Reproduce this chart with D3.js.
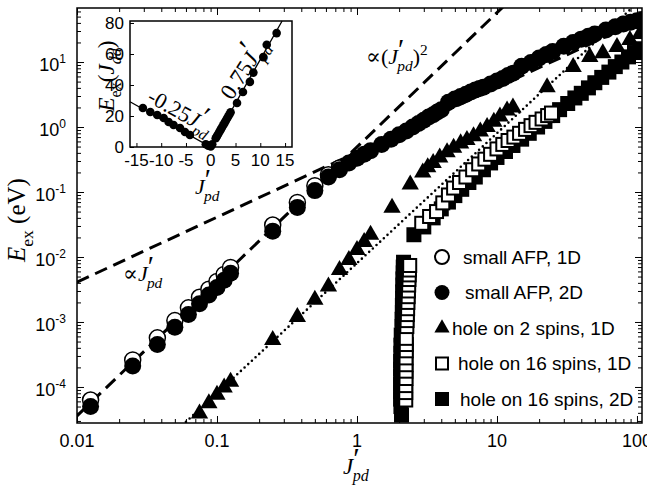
<!DOCTYPE html>
<html>
<head>
<meta charset="utf-8">
<script src="https://cdn.jsdelivr.net/npm/d3@7/dist/d3.min.js"></script>
<style>
  body { margin: 0; background: #fff; }
</style>
</head>
<body>
<div id="chart"></div>
<script>
// small AFP, 1D (open circles)
const afp1dJ = [0.0125, 0.025, 0.0375, 0.05, 0.0625, 0.075, 0.0875, 0.1, 0.1125, 0.125, 0.25, 0.375, 0.5, 0.625, 0.75];
const afp1dE = [6.3e-5, 2.6e-4, 5.7e-4, 1.05e-3, 1.65e-3, 2.4e-3, 3.2e-3, 4.2e-3, 5.4e-3, 6.9e-3, 0.031, 0.069, 0.125, 0.185, 0.235];

// small AFP, 2D (filled circles)
const afp2dJ = [0.0125, 0.025, 0.0375, 0.05, 0.0625, 0.075, 0.0875, 0.1, 0.1125, 0.125, 0.25, 0.375, 0.5, 0.625, 0.75, 0.875, 1, 1.125, 1.25, 1.5, 1.75, 2, 2.25, 2.5, 2.75, 3, 3.25, 3.5, 3.75, 4,
  4.5, 5, 5.5, 6, 6.5, 7, 7.5, 8, 9, 10, 11, 12, 13,
  15, 17.5, 20, 22.5, 25, 30, 35, 40, 45, 50, 60, 70, 80, 90, 100, 110];
const afp2dE = [5.0e-5, 2.1e-4, 4.5e-4, 8.3e-4, 1.3e-3, 1.9e-3, 2.6e-3, 3.4e-3, 4.4e-3, 5.6e-3, 0.025, 0.058, 0.105, 0.17, 0.22, 0.28, 0.33, 0.38, 0.43, 0.54, 0.65, 0.76, 0.87, 1.0, 1.13, 1.27, 1.42, 1.55, 1.70, 1.85,
  2.4, 2.7, 2.95, 3.2, 3.45, 3.7, 3.9, 4.1, 4.6, 5.1, 5.6, 6.2, 6.7,
  8.6, 9.8, 11.5, 13.0, 14.5, 17.5, 20, 22.5, 25, 27, 31, 35, 38.5, 41, 43, 45];

// hole on 2 spins, 1D (triangles)
const hole2J = [0.075, 0.0875, 0.1, 0.1125, 0.125, 0.25, 0.375, 0.5, 0.625, 0.75, 0.875, 1, 1.125, 1.25,
  1.78, 2.4, 2.95, 3.2, 3.5, 3.9, 4.4, 4.9, 5.5, 6.1, 6.8, 7.6, 8.5, 9.5, 10.5, 11.8, 13,
  22.8, 35, 46, 57, 72, 89, 105];
const hole2E = [3.9e-5, 5.6e-5, 7.6e-5, 9.8e-5, 1.2e-4, 5.3e-4, 1.19e-3, 2.2e-3, 3.5e-3, 6.3e-3, 9e-3, 0.0128, 0.017, 0.022,
  0.057, 0.13, 0.2, 0.24, 0.28, 0.34, 0.41, 0.48, 0.56, 0.63, 0.72, 0.85, 1.0, 1.2, 1.45, 1.8, 2.0,
  4.1, 8.4, 12, 13.7, 17, 21.8, 27];

// hole on 16 spins, 1D (open squares)
const hole16aJ = [2.23, 2.23, 2.23, 2.24, 2.24, 2.24, 2.24, 2.25, 2.25, 2.25,
  2.27, 2.28, 2.29, 2.30, 2.31, 2.32, 2.33, 2.34, 2.35, 2.36, 2.37, 2.38,
  2.9, 3.3, 3.7, 4.1, 4.5, 4.9, 5.4, 6.0, 6.7, 7.4, 8.2, 9.0, 10, 11, 12, 13.2, 14.5, 16, 17.5, 19, 21, 23, 24.5];
const hole16aE = [6.3e-5, 8.2e-5, 1.05e-4, 1.35e-4, 1.75e-4, 2.2e-4, 2.8e-4, 3.6e-4, 4.5e-4, 5.6e-4,
  8.5e-4, 1.05e-3, 1.3e-3, 1.6e-3, 2.0e-3, 2.45e-3, 3.0e-3, 3.7e-3, 4.5e-3, 5.3e-3, 6.3e-3, 7.4e-3,
  0.033, 0.042, 0.050, 0.068, 0.09, 0.115, 0.14, 0.17, 0.22, 0.27, 0.32, 0.38, 0.46, 0.54, 0.62, 0.70, 0.80, 0.92, 1.05, 1.18, 1.33, 1.5, 1.64];

// hole on 16 spins, 2D (filled squares)
const hole16bJ = [2.08, 2.06, 2.05, 2.05, 2.05, 2.05, 2.05, 2.05, 2.06, 2.06, 2.07,
  2.1, 2.1, 2.11, 2.11, 2.12, 2.12, 2.13, 2.13, 2.14, 2.14, 2.15,
  2.55, 3.0, 3.5, 4.0, 4.5, 5.0, 5.6, 6.3, 7.0, 8.0, 9.0, 10, 11.5, 13, 15, 17, 19.5, 22, 25, 28, 32, 36, 40, 45, 50, 56, 63, 70, 78, 87, 96, 105];
const hole16bE = [3.7e-5, 5e-5, 6.5e-5, 8.5e-5, 1.1e-4, 1.45e-4, 1.9e-4, 2.5e-4, 3.3e-4, 4.4e-4, 6.3e-4,
  8.5e-4, 1.1e-3, 1.4e-3, 1.8e-3, 2.3e-3, 2.9e-3, 3.7e-3, 4.6e-3, 5.7e-3, 7.0e-3, 8.3e-3,
  0.022, 0.029, 0.040, 0.055, 0.070, 0.088, 0.11, 0.14, 0.17, 0.22, 0.28, 0.34, 0.42, 0.52, 0.65, 0.80, 1.0, 1.22, 1.5, 1.85, 2.3, 2.8, 3.3, 4.0, 4.8, 5.8, 7.0, 8.5, 10, 12, 14, 16];

// guide lines (end points)
const guideSqJ = [0.01, 11];      // dashed, ∝ (J'pd)^2
const guideSqE = [3.6e-5, 70];
const guideLinJ = [0.01, 110];    // dashed, ∝ J'pd
const guideLinE = [4.1e-3, 45];
const guideDotJ = [0.06, 110];    // dotted
const guideDotE = [2.9e-5, 97];

// inset: E_ex (J_dd) vs J'pd
const insetJ = [-13.7, -12.2, -10.8, -9.5, -8.5, -7.5, -6.2, -5.2, -4.2,
  -1.0, -0.5, 0, 0.3,
  1.0, 1.25, 1.5, 1.75, 2.0, 2.25, 2.5, 2.75, 3.0, 3.25, 3.5, 3.75, 4.0,
  5.3, 6.5, 7.9, 8.6, 10.6, 11.3, 13.3];
const insetE = [25.2, 22.6, 20.6, 18.7, 16.1, 14.2, 12.3, 9.7, 7.7,
  1.8, 0.9, 0.3, 1.7,
  5.6, 7.0, 8.4, 9.8, 11.2, 12.6, 14, 15.4, 16.8, 18.2, 19.6, 21, 22.4,
  28.4, 35.5, 42, 48, 58, 66, 73.5];
const insetLineJ = [-16.3, 0, 14.4];
const insetLineE = [29.2, 0, 81.3];

const xTickVals = [0.01, 0.1, 1, 10, 100];
const xTickText = ["0.01", "0.1", "1", "10", "100"];
const yTickExp = [-4, -3, -2, -1, 0, 1];
const insetXTicks = [-15, -10, -5, 0, 5, 10, 15];
const insetYTicks = [0, 20, 40, 60, 80];
const legendLabels = ["small AFP, 1D", "small AFP, 2D", "hole on 2 spins, 1D", "hole on 16 spins, 1D", "hole on 16 spins, 2D"];

// ---- layout ----
const margin = { top: 8, left: 77 };
const width = 565, height = 415;
const sans = "'Liberation Sans', Arial, Helvetica, sans-serif";
const serif = "'Liberation Serif', 'Times New Roman', 'DejaVu Serif', serif";

const svg = d3.select("#chart").append("svg")
  .attr("width", 647).attr("height", 485)
  .style("background", "#fff");

svg.append("defs").append("clipPath").attr("id", "clip")
  .append("rect").attr("width", width).attr("height", height);

const g = svg.append("g").attr("transform", `translate(${margin.left},${margin.top})`);

const x = d3.scaleLog().domain([0.01, 108.6]).range([0, width]);
const y = d3.scaleLog().domain([2.79e-5, 67.8]).range([height, 0]);

const zip = (a, b) => a.map((v, i) => ({ J: v, E: b[i] }));

// text with sub/superscripts
function richText(parent, px, py, parts, size, family) {
  const t = parent.append("text").attr("x", px).attr("y", py)
    .attr("font-family", family).attr("font-size", size).attr("fill", "#000");
  let shift = 0;
  parts.forEach(p => {
    const target = p.sub ? size * 0.3 : p.sup ? -size * (p.up || 0.42) : 0;
    const ts = t.append("tspan").attr("dy", target - shift).text(p.t);
    shift = target;
    if (p.sub || p.sup) ts.attr("font-size", size * (p.fs || 0.7));
    if (p.i) ts.attr("font-style", "italic");
    if (p.dx) ts.attr("dx", p.dx);
  });
  return t;
}

// ---- ticks ----
const xMinor = [], yMinor = [];
for (let e = -2; e <= 2; e++) for (let m = 2; m <= 9; m++) {
  const v = m * Math.pow(10, e);
  if (v <= x.domain()[1]) xMinor.push(v);
}
for (let e = -5; e <= 1; e++) for (let m = 2; m <= 9; m++) {
  const v = m * Math.pow(10, e);
  if (v >= y.domain()[0] && v <= y.domain()[1]) yMinor.push(v);
}
const yMajor = yTickExp.map(e => Math.pow(10, e));

function tickSet(axis, tr, vals, size) {
  g.append("g").attr("transform", tr)
    .call(axis.tickValues(vals).tickSize(size).tickFormat(""))
    .call(s => s.select(".domain").remove())
    .call(s => s.selectAll("line").attr("stroke", "#000").attr("stroke-width", 1));
}
tickSet(d3.axisBottom(x), `translate(0,${height})`, xTickVals, -7);
tickSet(d3.axisBottom(x), `translate(0,${height})`, xMinor, -4);
tickSet(d3.axisTop(x), "translate(0,0)", xTickVals, -7);
tickSet(d3.axisTop(x), "translate(0,0)", xMinor, -4);
tickSet(d3.axisLeft(y), "translate(0,0)", yMajor, -7);
tickSet(d3.axisLeft(y), "translate(0,0)", yMinor, -4);
tickSet(d3.axisRight(y), `translate(${width},0)`, yMajor, -7);
tickSet(d3.axisRight(y), `translate(${width},0)`, yMinor, -4);

g.selectAll(".xl").data(xTickVals).enter().append("text")
  .attr("x", d => x(d)).attr("y", height + 24)
  .attr("text-anchor", "middle")
  .attr("font-family", sans).attr("font-size", 18)
  .text((d, i) => xTickText[i]);

yTickExp.forEach(e => {
  const t = g.append("text").attr("x", -11).attr("y", y(Math.pow(10, e)) + 9)
    .attr("text-anchor", "end").attr("font-family", sans).attr("font-size", 18);
  t.append("tspan").text("10");
  t.append("tspan").attr("dy", -8).attr("font-size", 12).text(String(e));
});

// ---- plot ----
const plot = g.append("g").attr("clip-path", "url(#clip)");

function guide(js, es, dash, w, cap) {
  plot.append("path")
    .datum(zip(js, es))
    .attr("d", d3.line().x(d => x(d.J)).y(d => y(d.E)))
    .attr("fill", "none").attr("stroke", "#000")
    .attr("stroke-width", w).attr("stroke-dasharray", dash)
    .attr("stroke-linecap", cap);
}
guide(guideDotJ, guideDotE, "0,5", 2.6, "round");
guide(guideSqJ, guideSqE, "13,7", 3, "butt");
guide(guideLinJ, guideLinE, "13,7", 3, "butt");

const tri = d3.symbol().type(d3.symbolTriangle).size(130);
plot.selectAll(".tri").data(zip(hole2J, hole2E)).enter().append("path")
  .attr("d", tri)
  .attr("transform", d => `translate(${x(d.J)},${y(d.E)})`)
  .attr("fill", "#000");

const sq = 15;
plot.selectAll(".sqb").data(zip(hole16bJ, hole16bE)).enter().append("rect")
  .attr("x", d => x(d.J) - sq / 2).attr("y", d => y(d.E) - sq / 2)
  .attr("width", sq).attr("height", sq)
  .attr("fill", "#000");
plot.selectAll(".sqa").data(zip(hole16aJ, hole16aE)).enter().append("rect")
  .attr("x", d => x(d.J) - sq / 2 + 1).attr("y", d => y(d.E) - sq / 2 + 1)
  .attr("width", sq - 2).attr("height", sq - 2)
  .attr("fill", "#fff").attr("stroke", "#000").attr("stroke-width", 2);

plot.selectAll(".c1").data(zip(afp1dJ, afp1dE)).enter().append("circle")
  .attr("cx", d => x(d.J)).attr("cy", d => y(d.E)).attr("r", 8)
  .attr("fill", "#fff").attr("stroke", "#000").attr("stroke-width", 1.5);
plot.selectAll(".c2").data(zip(afp2dJ, afp2dE)).enter().append("circle")
  .attr("cx", d => x(d.J)).attr("cy", d => y(d.E)).attr("r", 8.5)
  .attr("fill", "#000");

// frame
g.append("rect").attr("width", width).attr("height", height)
  .attr("fill", "none").attr("stroke", "#000").attr("stroke-width", 1.5);

// guide labels
const prime = { t: "′", sup: true, fs: 1.3, up: 0.25 };
const jpd = [{ t: "J", i: true }, prime, { t: "pd", sub: true, i: true, dx: -7 }];
richText(svg, 123, 281, [{ t: "∝" }].concat(jpd), 22, serif);
richText(svg, 366, 64, [{ t: "∝(" }, { t: "J", i: true }, prime, { t: "pd", sub: true, i: true, dx: -7 }, { t: ")" }, { t: "2", sup: true }], 22, serif);

// axis titles
richText(svg, 343, 474, jpd, 23, serif);
richText(svg, 0, 0, [{ t: "E", i: true }, { t: "ex", sub: true }, { t: " (eV)" }], 25, serif)
  .attr("text-anchor", "middle")
  .attr("transform", "translate(25,220) rotate(-90)");

// ---- legend ----
const legendTextX = [463, 465, 452, 458, 460];
const lg = svg.append("g");
legendLabels.forEach((lab, i) => {
  const cy = 257 + i * 35.5;
  const mx = 442;
  if (i === 0) lg.append("circle").attr("cx", mx).attr("cy", cy).attr("r", 7)
    .attr("fill", "#fff").attr("stroke", "#000").attr("stroke-width", 2);
  if (i === 1) lg.append("circle").attr("cx", mx).attr("cy", cy).attr("r", 7.5).attr("fill", "#000");
  if (i === 2) lg.append("path").attr("d", d3.symbol().type(d3.symbolTriangle).size(100))
    .attr("transform", `translate(${mx},${cy})`).attr("fill", "#000");
  if (i === 3) lg.append("rect").attr("x", mx - 6).attr("y", cy - 6).attr("width", 12).attr("height", 12)
    .attr("fill", "#fff").attr("stroke", "#000").attr("stroke-width", 2);
  if (i === 4) lg.append("rect").attr("x", mx - 7).attr("y", cy - 7).attr("width", 14).attr("height", 14).attr("fill", "#000");
  lg.append("text").attr("x", legendTextX[i]).attr("y", cy + 6.5)
    .attr("font-family", sans).attr("font-size", 19).text(lab);
});

// ---- inset ----
const xi = d3.scaleLinear().domain([-16.3, 16.4]).range([130, 292]);
const yi = d3.scaleLinear().domain([0, 81.3]).range([147, 21]);
const ins = svg.append("g");
ins.append("rect").attr("x", 130).attr("y", 21).attr("width", 162).attr("height", 126).attr("fill", "#fff");
ins.append("path").datum(zip(insetLineJ, insetLineE))
  .attr("d", d3.line().x(d => xi(d.J)).y(d => yi(d.E)))
  .attr("fill", "none").attr("stroke", "#000").attr("stroke-width", 1.3);
ins.selectAll(".ip").data(zip(insetJ, insetE)).enter().append("circle")
  .attr("cx", d => xi(d.J)).attr("cy", d => yi(d.E)).attr("r", 4.3).attr("fill", "#000");
ins.append("g").attr("transform", "translate(0,147)")
  .call(d3.axisBottom(xi).tickValues(insetXTicks).tickSize(-4).tickFormat(""))
  .call(s => s.select(".domain").remove());
ins.append("g").attr("transform", "translate(130,0)")
  .call(d3.axisLeft(yi).tickValues(insetYTicks).tickSize(-4).tickFormat(""))
  .call(s => s.select(".domain").remove());
ins.append("rect").attr("x", 130).attr("y", 21).attr("width", 162).attr("height", 126)
  .attr("fill", "none").attr("stroke", "#000").attr("stroke-width", 1.5);
ins.selectAll(".ixl").data(insetXTicks).enter().append("text")
  .attr("x", d => xi(d)).attr("y", 166).attr("text-anchor", "middle")
  .attr("font-family", sans).attr("font-size", 17).text(d => d);
ins.selectAll(".iyl").data(insetYTicks).enter().append("text")
  .attr("x", 124).attr("y", d => yi(d) + 6).attr("text-anchor", "end")
  .attr("font-family", sans).attr("font-size", 17).text(d => d);
richText(ins, 195, 194, jpd, 22, serif);
richText(ins, 0, 0, [{ t: "E", i: true }, { t: "ex", sub: true }, { t: "(" }, { t: "J", i: true }, { t: "dd", sub: true, i: true }, { t: ")" }], 23, serif)
  .attr("text-anchor", "middle")
  .attr("transform", "translate(114,76) rotate(-90)");
richText(ins, 0, 0, [{ t: "-0.25" }].concat(jpd), 22, serif)
  .attr("transform", "translate(146,101) rotate(29)");
richText(ins, 0, 0, [{ t: "0.75" }].concat(jpd), 23, serif)
  .attr("transform", "translate(232,101) rotate(-57)");
</script>
</body>
</html>
